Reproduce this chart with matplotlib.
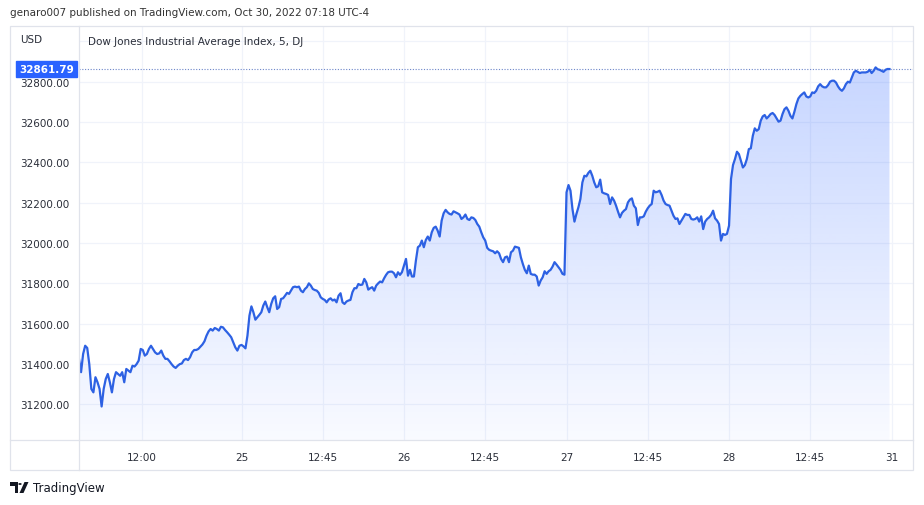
import numpy as np
import matplotlib
matplotlib.use("Agg")
import matplotlib.pyplot as plt
from matplotlib.patches import Rectangle, Polygon, Circle
from matplotlib.lines import Line2D

# 5-minute closes, one list per session (Oct 24 .. Oct 28)
day24 = [31426, 31360, 31450, 31491, 31480, 31400, 31277, 31260, 31335, 31310,
         31277, 31190, 31277, 31326, 31351, 31310, 31260, 31326, 31360, 31351,
         31342, 31360, 31310, 31376, 31368, 31360, 31392, 31388, 31400, 31417,
         31475, 31470, 31442, 31450, 31475, 31491, 31475, 31458, 31450, 31453,
         31467, 31442, 31426, 31426, 31414, 31400, 31388, 31381, 31392, 31400,
         31403, 31420, 31426, 31420, 31434, 31458, 31470, 31470, 31475, 31486,
         31497, 31513, 31541, 31562, 31574, 31566, 31579, 31574, 31566, 31585,
         31582, 31569, 31558, 31546, 31533, 31508, 31483, 31467, 31491]
day25 = [31495, 31488, 31478, 31541, 31640, 31686, 31657, 31620, 31632, 31644,
         31657, 31690, 31710, 31682, 31657, 31698, 31726, 31736, 31673, 31682,
         31723, 31726, 31739, 31753, 31748, 31764, 31781, 31784, 31781, 31784,
         31764, 31756, 31772, 31781, 31800, 31789, 31772, 31767, 31764, 31753,
         31731, 31723, 31718, 31706, 31720, 31726, 31715, 31720, 31706, 31739,
         31751, 31706, 31698, 31710, 31715, 31718, 31756, 31776, 31776, 31797,
         31792, 31794, 31822, 31805, 31769, 31776, 31781, 31764, 31789, 31800,
         31809, 31805, 31825, 31842, 31855, 31858, 31858, 31850, 31830, 31855,
         31842, 31855]
day26 = [31888, 31921, 31838, 31867, 31834, 31834, 31913, 31979, 31987, 32012,
         31979, 32015, 32032, 32012, 32053, 32075, 32081, 32061, 32032, 32111,
         32147, 32164, 32152, 32144, 32141, 32157, 32152, 32147, 32141, 32119,
         32127, 32141, 32119, 32114, 32127, 32124, 32114, 32094, 32081, 32053,
         32028, 32012, 31976, 31966, 31962, 31959, 31949, 31959, 31949, 31921,
         31905, 31929, 31933, 31905, 31954, 31962, 31982, 31979, 31976, 31929,
         31896, 31867, 31850, 31888, 31847, 31843, 31843, 31834, 31789, 31814,
         31830, 31860, 31847, 31860, 31867, 31883, 31905, 31893, 31880, 31867,
         31847, 31843]
day27 = [32251, 32287, 32259, 32168, 32106, 32144, 32177, 32218, 32300, 32333,
         32330, 32347, 32358, 32333, 32300, 32276, 32281, 32314, 32251, 32246,
         32243, 32238, 32193, 32226, 32210, 32185, 32155, 32127, 32149, 32160,
         32168, 32201, 32215, 32221, 32185, 32172, 32089, 32127, 32127, 32132,
         32155, 32172, 32185, 32193, 32259, 32251, 32254, 32259, 32238, 32210,
         32193, 32188, 32185, 32160, 32135, 32119, 32122, 32094, 32111, 32127,
         32144, 32139, 32139, 32119, 32116, 32119, 32127, 32106, 32132, 32069,
         32106, 32119, 32127, 32139, 32160, 32122, 32111, 32094, 32012, 32045,
         32040, 32045]
day28 = [32086, 32317, 32386, 32416, 32452, 32440, 32407, 32374, 32386, 32416,
         32465, 32469, 32531, 32568, 32556, 32564, 32606, 32627, 32634, 32617,
         32627, 32639, 32644, 32634, 32617, 32601, 32606, 32639, 32663, 32672,
         32655, 32630, 32617, 32650, 32688, 32716, 32729, 32738, 32746, 32726,
         32721, 32726, 32746, 32743, 32754, 32776, 32787, 32776, 32771, 32771,
         32782, 32799, 32804, 32804, 32795, 32776, 32762, 32754, 32766, 32787,
         32799, 32795, 32820, 32845, 32853, 32848, 32842, 32845, 32845, 32845,
         32848, 32858, 32842, 32853, 32870, 32861, 32858, 32853, 32848, 32858,
         32862, 32861.79]
sessions = [day24, day25, day26, day27, day28]
last_price = 32861.79

price_ticks = [31200, 31400, 31600, 31800, 32000, 32200, 32400, 32600, 32800]
time_ticks = [0.3846, 1, 1.5, 2, 2.5, 3, 3.5, 4, 4.5, 5]   # in session units
time_labels = ["12:00", "25", "12:45", "26", "12:45", "27", "12:45", "28", "12:45", "31"]

header = "genaro007 published on TradingView.com, Oct 30, 2022 07:18 UTC-4"
title = "Dow Jones Industrial Average Index, 5, DJ"

blue = "#2962ff"
line_c = "#2d61e3"
txt = "#2a2e39"
border = "#e0e3eb"

W, H = 924, 506
fig = plt.figure(figsize=(W / 100, H / 100), dpi=100)
fig.patch.set_facecolor("white")

def fx(px):
    return px / W

def fy(py):
    return 1 - py / H

ax = fig.add_axes([fx(79), fy(441), fx(913) - fx(79), fy(27) - fy(441)])

xs, ys = [], []
for d, s in enumerate(sessions):
    xs.append(d + np.linspace(0, 77 / 78, len(s)))
    ys.append(np.array(s, dtype=float))
x = np.concatenate(xs)
y = np.concatenate(ys)

ymin, ymax = 31024, 33075
ax.set_xlim(0, 5.132)
ax.set_ylim(ymin, ymax)

# gradient area under the line
grad = np.zeros((256, 1, 4))
grad[:, 0, :3] = matplotlib.colors.to_rgb(blue)
grad[:, 0, 3] = np.linspace(0.03, 0.26, 256)
im = ax.imshow(grad, extent=[x[0], x[-1], ymin, y.max()], origin="lower",
               aspect="auto", zorder=1, interpolation="bilinear")
poly = Polygon(np.column_stack([np.r_[x[0], x, x[-1]], np.r_[ymin, y, ymin]]),
               closed=True, facecolor="none", edgecolor="none")
ax.add_patch(poly)
im.set_clip_path(poly)

ax.plot(x, y, color=line_c, lw=1.6, zorder=3, solid_joinstyle="round")
ax.axhline(last_price, color="#6c85c9", lw=0.8, ls=(0, (1, 1.5)), zorder=2)

for t in time_ticks:
    ax.axvline(t, color="#f0f3fa", lw=0.9, zorder=0)
for p in price_ticks + [33000]:
    ax.axhline(p, color="#f0f3fa", lw=0.9, zorder=0)

ax.set_yticks(price_ticks)
ax.set_yticklabels(["%.2f" % p for p in price_ticks])
ax.set_xticks(time_ticks)
ax.set_xticklabels(time_labels)
ax.tick_params(axis="y", length=0, pad=7, labelsize=7.5, labelcolor=txt)
ax.tick_params(axis="x", length=0, pad=9, labelsize=7.5, labelcolor=txt)
for sp in ax.spines.values():
    sp.set_visible(False)

ax.text(-0.006, last_price, "%.2f" % last_price, transform=ax.get_yaxis_transform(),
        ha="right", va="center", color="white", fontsize=7.5, fontweight="bold",
        zorder=10, clip_on=False,
        bbox=dict(boxstyle="square,pad=0.3", facecolor=blue, edgecolor=blue))

# outer frame of the widget
fig.add_artist(Rectangle((fx(10), fy(471)), fx(913) - fx(10), fy(27) - fy(471),
                         transform=fig.transFigure, fill=False, edgecolor=border, lw=0.9))
fig.add_artist(Line2D([fx(79), fx(79)], [fy(27), fy(471)], color=border, lw=0.9))
fig.add_artist(Line2D([fx(10), fx(913)], [fy(441), fy(441)], color=border, lw=0.9))

fig.text(fx(10), fy(13), header, fontsize=7.5, color="#333333", va="center", ha="left")
fig.text(fx(20), fy(40), "USD", fontsize=7.5, color=txt, va="center", ha="left")
fig.text(fx(88), fy(42), title, fontsize=7.5, color=txt, va="center", ha="left")

# TradingView mark + name
logo = "#131722"
fig.add_artist(Polygon([(fx(10), fy(483)), (fx(17.5), fy(483)), (fx(17.5), fy(494)),
                        (fx(14.5), fy(494)), (fx(14.5), fy(487)), (fx(10), fy(487))],
                       closed=True, transform=fig.transFigure, facecolor=logo, edgecolor="none"))
fig.add_artist(Circle((fx(20), fy(485)), 1.7 / W, transform=fig.transFigure,
                      facecolor=logo, edgecolor="none"))
fig.add_artist(Polygon([(fx(24.5), fy(483)), (fx(28.5), fy(483)), (fx(23.5), fy(494)),
                        (fx(19.5), fy(494))],
                       closed=True, transform=fig.transFigure, facecolor=logo, edgecolor="none"))
fig.text(fx(33), fy(489), "TradingView", fontsize=8.5, color=logo, va="center", ha="left")

fig.savefig("out.png", dpi=100, facecolor="white")
